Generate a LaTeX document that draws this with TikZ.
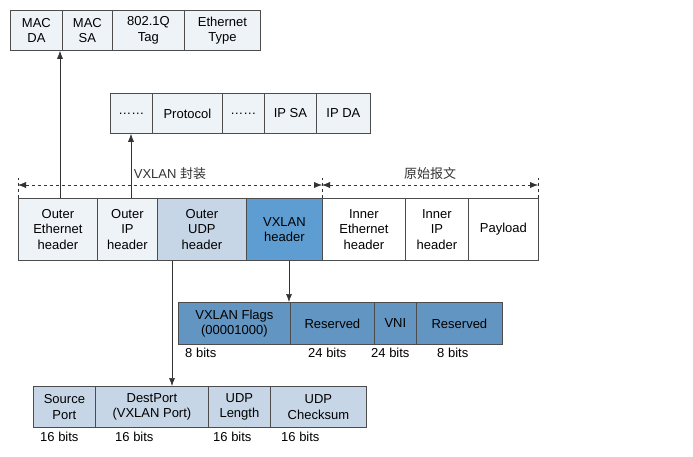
\documentclass[tikz,border=0pt]{standalone}
\usepackage{fontspec}
\setmainfont{Liberation Sans}
\newfontfamily\cjk{Noto Sans CJK SC}
\usetikzlibrary{arrows, positioning}
\definecolor{lightfld}{HTML}{EEF3F7}
\definecolor{udpfld}{HTML}{C6D6E6}
\definecolor{vxfld}{HTML}{5E9DD2}
\definecolor{flagfld}{HTML}{6395C2}
\tikzstyle{field} = [
    rectangle, inner sep=0pt, anchor=north west, text centered, align=center,
    draw=black!70, line width=0.8pt, font=\fontsize{13}{15.5}\selectfont
]
\tikzstyle{bits} = [anchor=west, inner sep=0pt, font=\fontsize{13}{15}\selectfont]
\tikzstyle{arrow} = [line width=0.6pt, draw=black!80, -{Latex[length=8pt,width=6pt]}]
\usetikzlibrary{arrows.meta}
\begin{document}
\begin{tikzpicture}[x=1pt, y=-1pt]
\useasboundingbox (0,0) rectangle (693,457);

% Ethernet
\node (mda)  [field, fill=lightfld, minimum width=52pt, minimum height=40pt] at (10,10)  {MAC\\DA};
\node (msa)  [field, fill=lightfld, minimum width=50pt, minimum height=40pt] at (62,10)  {MAC\\SA};
\node (tag)  [field, fill=lightfld, minimum width=72pt, minimum height=40pt] at (112,10) {802.1Q\\Tag};
\node (etyp) [field, fill=lightfld, minimum width=76pt, minimum height=40pt] at (184,10) {Ethernet\\Type};

% IP
\node (dot1) [field, fill=lightfld, minimum width=42pt, minimum height=40pt] at (110,93) {……};
\node (prot) [field, fill=lightfld, minimum width=70pt, minimum height=40pt] at (152,93) {Protocol};
\node (dot2) [field, fill=lightfld, minimum width=42pt, minimum height=40pt] at (222,93) {……};
\node (ipsa) [field, fill=lightfld, minimum width=52pt, minimum height=40pt] at (264,93) {IP SA};
\node (ipda) [field, fill=lightfld, minimum width=54pt, minimum height=40pt] at (316,93) {IP DA};

% Packet
\node (oeth) [field, fill=lightfld, minimum width=79pt, minimum height=62pt] at (18,198)  {Outer\\Ethernet\\header};
\node (oip)  [field, fill=lightfld, minimum width=60pt, minimum height=62pt] at (97,198)  {Outer\\IP\\header};
\node (oudp) [field, fill=udpfld,   minimum width=89pt, minimum height=62pt] at (157,198) {Outer\\UDP\\header};
\node (vxh)  [field, fill=vxfld,    minimum width=76pt, minimum height=62pt] at (246,198) {VXLAN\\header};
\node (ieth) [field, fill=white,    minimum width=83pt, minimum height=62pt] at (322,198) {Inner\\Ethernet\\header};
\node (iip)  [field, fill=white,    minimum width=63pt, minimum height=62pt] at (405,198) {Inner\\IP\\header};
\node (pay)  [field, fill=white,    minimum width=70pt, minimum height=62pt] at (468,198) {Payload};

% Spans
\coordinate (s0) at (18,185);
\coordinate (s1) at (322,185);
\coordinate (s2) at (538,185);
\foreach \c in {s0,s1,s2}
  \draw [dashed, black!80] ([yshift=-13pt]\c) -- ([yshift=7pt]\c);
\draw [dashed, black!80, {Latex[length=8pt,width=6pt]}-{Latex[length=8pt,width=6pt]}] (s0) -- (s1)
  node [midway, above=2pt, font=\fontsize{13}{15}\selectfont] {VXLAN \cjk 封装};
\draw [dashed, black!80, {Latex[length=8pt,width=6pt]}-{Latex[length=8pt,width=6pt]}] (s1) -- (s2)
  node [midway, above=2pt, font=\fontsize{13}{15}\selectfont\cjk] {原始报文};

% VXLAN header fields
\node (flg)  [field, fill=flagfld, minimum width=112pt, minimum height=42pt] at (178,302) {VXLAN Flags\\(00001000)};
\node (res1) [field, fill=flagfld, minimum width=84pt,  minimum height=42pt] at (290,302) {Reserved};
\node (vni)  [field, fill=flagfld, minimum width=42pt,  minimum height=42pt] at (374,302) {VNI};
\node (res2) [field, fill=flagfld, minimum width=86pt,  minimum height=42pt] at (416,302) {Reserved};
\node [bits] at (185,353) {8 bits};
\node [bits] at (308,353) {24 bits};
\node [bits] at (371,353) {24 bits};
\node [bits] at (437,353) {8 bits};

% UDP header fields
\node (sprt) [field, fill=udpfld, minimum width=62pt,  minimum height=41pt] at (33,386)  {Source\\Port};
\node (dprt) [field, fill=udpfld, minimum width=113pt, minimum height=41pt] at (95,386)  {DestPort\\(VXLAN Port)};
\node (ulen) [field, fill=udpfld, minimum width=62pt,  minimum height=41pt] at (208,386) {UDP\\Length};
\node (ucks) [field, fill=udpfld, minimum width=96pt,  minimum height=41pt] at (270,386) {UDP\\Checksum};
\node [bits] at (40,437)  {16 bits};
\node [bits] at (115,437) {16 bits};
\node [bits] at (213,437) {16 bits};
\node [bits] at (281,437) {16 bits};

% Arrows
\draw [arrow] (oeth.north -| 60,0) -- (mda.south -| 60,0);
\draw [arrow] (oip.north -| 131,0) -- (dot1.south -| 131,0);
\draw [arrow] (vxh.south -| 289,0) -- (flg.north -| 289,0);
\draw [arrow] (oudp.south -| 172,0) -- (dprt.north -| 172,0);

\end{tikzpicture}
\end{document}
